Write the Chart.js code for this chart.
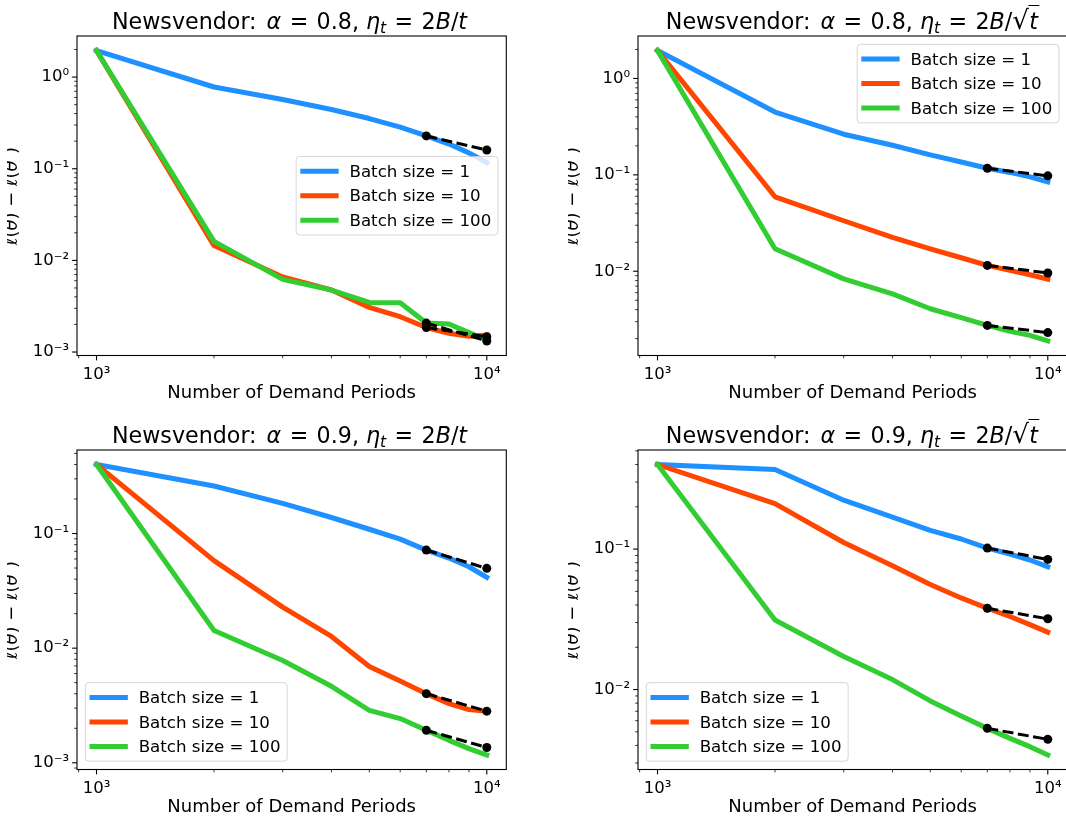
<!DOCTYPE html>
<html>
<head>
<meta charset="utf-8">
<title>Newsvendor</title>
<script src="https://cdn.jsdelivr.net/npm/chart.js@4.4.1/dist/chart.umd.min.js"></script>
<style>
  html, body { margin:0; padding:0; background:#fff; }
  body { width:1066px; height:820px; overflow:hidden; position:relative; font-family:'DejaVu Sans', sans-serif; color:#000; }
  canvas { position:absolute; }
  .ttl { position:absolute; font-size:22.2px; line-height:1; white-space:nowrap; transform:translateX(-50%); }
  .ttl i, .yl i { font-style:oblique; }
  .m { margin-left:0.45em; }
  .eq { padding:0 0.06em; }
  .sb { font-size:0.7em; position:relative; top:0.28em; font-style:oblique; }
  .rad { font-size:1.18em; line-height:0; position:relative; top:0.03em; }
  .ov { position:relative; padding:0 0.05em 0 0.02em; }
  .ov::before { content:''; position:absolute; left:-0.04em; right:0; top:-0.1em; border-top:1.4px solid #000; }
  .clip { position:absolute; overflow:hidden; top:0; height:820px; width:120px; }
  .yl { position:absolute; font-size:18px; line-height:1; white-space:nowrap; transform:translate(-50%,-50%) rotate(-90deg); }
  .sp { font-size:0.7em; position:relative; top:-0.62em; }
</style>
</head>
<body>
<canvas id="c0" width="530" height="410" style="left:0px;top:0px"></canvas>
<canvas id="c1" width="530" height="410" style="left:561px;top:0px"></canvas>
<canvas id="c2" width="530" height="410" style="left:0px;top:410px"></canvas>
<canvas id="c3" width="530" height="410" style="left:561px;top:410px"></canvas>

<div class="ttl" style="left:289.5px;top:9.5px">Newsvendor:<span class="m"><i>α</i> <span class="eq">=</span> 0.8, <i>η</i><span class="sb">t</span> <span class="eq">=</span> 2<i>B</i>/<i>t</i></span></div>
<div class="ttl" style="left:852.5px;top:9.5px">Newsvendor:<span class="m"><i>α</i> <span class="eq">=</span> 0.8, <i>η</i><span class="sb">t</span> <span class="eq">=</span> 2<i>B</i>/<span class="rad">√</span><span class="ov"><i>t</i></span></span></div>
<div class="ttl" style="left:289.5px;top:423.5px">Newsvendor:<span class="m"><i>α</i> <span class="eq">=</span> 0.9, <i>η</i><span class="sb">t</span> <span class="eq">=</span> 2<i>B</i>/<i>t</i></span></div>
<div class="ttl" style="left:852.5px;top:423.5px">Newsvendor:<span class="m"><i>α</i> <span class="eq">=</span> 0.9, <i>η</i><span class="sb">t</span> <span class="eq">=</span> 2<i>B</i>/<span class="rad">√</span><span class="ov"><i>t</i></span></span></div>

<div class="clip" style="left:7px">
  <div class="yl" style="left:3.5px;top:196px"><i>ℓ</i>(<i>θ</i>) − <i>ℓ</i>(<i>θ</i><span class="sp">*</span>)</div>
  <div class="yl" style="left:3.5px;top:610px"><i>ℓ</i>(<i>θ</i>) − <i>ℓ</i>(<i>θ</i><span class="sp">*</span>)</div>
</div>
<div class="clip" style="left:568px">
  <div class="yl" style="left:3.5px;top:196px"><i>ℓ</i>(<i>θ</i>) − <i>ℓ</i>(<i>θ</i><span class="sp">*</span>)</div>
  <div class="yl" style="left:3.5px;top:610px"><i>ℓ</i>(<i>θ</i>) − <i>ℓ</i>(<i>θ</i><span class="sp">*</span>)</div>
</div>

<script>
// ---------------- data ----------------
const periods = [1000, 2000, 3000, 4000, 5000, 6000, 7000, 8000, 9000, 10000];
const fitPeriods = [7000, 10000];
const batchLabels = ['Batch size = 1', 'Batch size = 10', 'Batch size = 100'];
const xAxisTitle = 'Number of Demand Periods';
const decadeExps = [-3, -2, -1, 0, 3, 4];
const decadeLabels = ['10⁻³', '10⁻²', '10⁻¹', '10⁰', '10³', '10⁴'];

// alpha = 0.8, eta_t = 2B/t
const a08InvT_b1   = [1.95, 0.78, 0.57, 0.443, 0.353, 0.284, 0.228, 0.186, 0.149, 0.117];
const a08InvT_b10  = [1.95, 0.0145, 0.0066, 0.00475, 0.00307, 0.00243, 0.00185, 0.0016, 0.00149, 0.00153];
const a08InvT_b100 = [1.95, 0.0161, 0.0062, 0.00475, 0.00348, 0.00345, 0.00207, 0.00202, 0.00163, 0.00135];
const a08InvT_fit1   = [0.228, 0.160];
const a08InvT_fit10  = [0.00185, 0.00147];
const a08InvT_fit100 = [0.00207, 0.00132];

// alpha = 0.8, eta_t = 2B/sqrt(t)
const a08InvSqrt_b1   = [1.95, 0.448, 0.264, 0.203, 0.161, 0.136, 0.117, 0.106, 0.0955, 0.0847];
const a08InvSqrt_b10  = [1.95, 0.0592, 0.0334, 0.0225, 0.0171, 0.0138, 0.0115, 0.0102, 0.0092, 0.00827];
const a08InvSqrt_b100 = [1.95, 0.0171, 0.00834, 0.00583, 0.00408, 0.0033, 0.00274, 0.00238, 0.00216, 0.00189];
const a08InvSqrt_fit1   = [0.117, 0.0977];
const a08InvSqrt_fit10  = [0.0115, 0.0096];
const a08InvSqrt_fit100 = [0.00274, 0.00231];

// alpha = 0.9, eta_t = 2B/t
const a09InvT_b1   = [0.40, 0.260, 0.183, 0.138, 0.109, 0.0893, 0.0717, 0.0611, 0.0513, 0.0414];
const a09InvT_b10  = [0.40, 0.058, 0.0228, 0.01265, 0.00693, 0.00517, 0.00401, 0.00328, 0.00291, 0.00282];
const a09InvT_b100 = [0.40, 0.01426, 0.0078, 0.00465, 0.00287, 0.00243, 0.00192, 0.00157, 0.00133, 0.00117];
const a09InvT_fit1   = [0.0717, 0.0497];
const a09InvT_fit10  = [0.00401, 0.00282];
const a09InvT_fit100 = [0.00192, 0.00136];

// alpha = 0.9, eta_t = 2B/sqrt(t)
const a09InvSqrt_b1   = [0.40, 0.369, 0.223, 0.169, 0.136, 0.118, 0.1016, 0.0922, 0.0836, 0.0749];
const a09InvSqrt_b10  = [0.40, 0.2105, 0.1114, 0.0762, 0.0559, 0.0449, 0.0379, 0.0331, 0.029, 0.0256];
const a09InvSqrt_b100 = [0.40, 0.0313, 0.0172, 0.01177, 0.0083, 0.00647, 0.00529, 0.00449, 0.00392, 0.00342];
const a09InvSqrt_fit1   = [0.1016, 0.0844];
const a09InvSqrt_fit10  = [0.0379, 0.0319];
const a09InvSqrt_fit100 = [0.00529, 0.00442];

// ---------------- helpers ----------------
const lineColors = ['#1E90FF', '#FF4500', '#32CD32'];

function series(xs, ys) { return xs.map((x, i) => ({ x: x, y: ys[i] })); }

function logBounds(values) {
  const lo = Math.log10(Math.min(...values)), hi = Math.log10(Math.max(...values));
  const m = (hi - lo) * 0.05;
  return [Math.pow(10, lo - m), Math.pow(10, hi + m)];
}

function logTicks(min, max) {
  const out = [];
  const k0 = Math.floor(Math.log10(min)), k1 = Math.ceil(Math.log10(max));
  for (let k = k0; k <= k1; k++) {
    for (let m = 1; m <= 9; m++) {
      const v = m * Math.pow(10, k);
      if (v >= min && v <= max) out.push({ value: v, isDecade: m === 1, exp: k });
    }
  }
  return out;
}

function tickLabel(value, index, ticks) {
  const t = ticks[index];
  if (!t || !t.isDecade) return '';
  const i = decadeExps.indexOf(t.exp);
  return i >= 0 ? decadeLabels[i] : '';
}

const axesPlugin = {
  id: 'mplAxes',
  afterDatasetsDraw(chart) {
    const ctx = chart.ctx, a = chart.chartArea, xs = chart.scales.x, ys = chart.scales.y;
    ctx.save();
    ctx.strokeStyle = '#000';
    for (const t of xs.ticks) {
      const px = xs.getPixelForValue(t.value);
      ctx.lineWidth = t.isDecade ? 1.1 : 0.8;
      ctx.beginPath(); ctx.moveTo(px, a.bottom); ctx.lineTo(px, a.bottom + (t.isDecade ? 4.9 : 2.8)); ctx.stroke();
    }
    for (const t of ys.ticks) {
      const py = ys.getPixelForValue(t.value);
      ctx.lineWidth = t.isDecade ? 1.1 : 0.8;
      ctx.beginPath(); ctx.moveTo(a.left, py); ctx.lineTo(a.left - (t.isDecade ? 4.9 : 2.8), py); ctx.stroke();
    }
    ctx.lineWidth = 1.1;
    ctx.strokeRect(a.left, a.top, a.right - a.left, a.bottom - a.top);
    ctx.restore();
  }
};

const legendPlugin = {
  id: 'mplLegend',
  afterDatasetsDraw(chart, args, opts) {
    const f = 16.67;
    const ctx = chart.ctx, a = chart.chartArea;
    const items = chart.data.datasets.filter(d => d.label);
    ctx.save();
    ctx.font = f + 'px "DejaVu Sans"';
    const tw = Math.max(...items.map(d => ctx.measureText(d.label).width));
    const pad = 0.4 * f, hl = 2 * f, htp = 0.8 * f, ls = 0.5 * f, bap = 0.5 * f, rowH = 0.97 * f;
    const w = 2 * pad + hl + htp + tw;
    const h = 2 * pad + items.length * rowH + (items.length - 1) * ls;
    let x, y;
    if (opts.loc === 'upper right') { x = a.right - bap - w; y = a.top + bap; }
    else if (opts.loc === 'center right') { x = a.right - bap - w; y = (a.top + a.bottom) / 2 - h / 2; }
    else { x = a.left + bap; y = a.bottom - bap - h; }
    ctx.beginPath();
    ctx.roundRect(x, y, w, h, 0.2 * f);
    ctx.fillStyle = 'rgba(255,255,255,0.8)';
    ctx.fill();
    ctx.strokeStyle = 'rgba(204,204,204,0.8)';
    ctx.lineWidth = 1;
    ctx.stroke();
    items.forEach((d, i) => {
      const cy = y + pad + rowH / 2 + i * (rowH + ls);
      ctx.strokeStyle = d.borderColor;
      ctx.lineWidth = d.borderWidth;
      ctx.lineCap = 'square';
      ctx.beginPath(); ctx.moveTo(x + pad, cy); ctx.lineTo(x + pad + hl, cy); ctx.stroke();
      ctx.fillStyle = '#000';
      ctx.textBaseline = 'alphabetic';
      ctx.textAlign = 'left';
      ctx.fillText(d.label, x + pad + hl + htp, cy + 0.34 * f);
    });
    ctx.restore();
  }
};

Chart.defaults.font.family = "'DejaVu Sans'";
Chart.defaults.color = '#000';

const panels = [
  { canvas: 'c0', lines: [a08InvT_b1, a08InvT_b10, a08InvT_b100], fits: [a08InvT_fit1, a08InvT_fit10, a08InvT_fit100], loc: 'center right', padTop: 36, padBottom: 6.2 },
  { canvas: 'c1', lines: [a08InvSqrt_b1, a08InvSqrt_b10, a08InvSqrt_b100], fits: [a08InvSqrt_fit1, a08InvSqrt_fit10, a08InvSqrt_fit100], loc: 'upper right', padTop: 36, padBottom: 6.2 },
  { canvas: 'c2', lines: [a09InvT_b1, a09InvT_b10, a09InvT_b100], fits: [a09InvT_fit1, a09InvT_fit10, a09InvT_fit100], loc: 'lower left', padTop: 40, padBottom: 2.2 },
  { canvas: 'c3', lines: [a09InvSqrt_b1, a09InvSqrt_b10, a09InvSqrt_b100], fits: [a09InvSqrt_fit1, a09InvSqrt_fit10, a09InvSqrt_fit100], loc: 'lower left', padTop: 40, padBottom: 2.2 }
];

function build(p) {
  const datasets = [];
  p.lines.forEach((ys, i) => datasets.push({
    label: batchLabels[i], data: series(periods, ys),
    borderColor: lineColors[i], backgroundColor: lineColors[i],
    borderWidth: 5, pointRadius: 0, pointHoverRadius: 0, tension: 0,
    borderCapStyle: 'square', borderJoinStyle: 'round', fill: false, order: 6 - i
  }));
  p.fits.forEach((ys, i) => datasets.push({
    label: '', data: series(fitPeriods, ys),
    borderColor: '#000', backgroundColor: '#000',
    borderWidth: 3, borderDash: [11, 4.5], borderCapStyle: 'butt',
    pointRadius: 4.5, pointHoverRadius: 4.5, pointBackgroundColor: '#000', pointBorderWidth: 0,
    tension: 0, fill: false, order: 3 - i
  }));
  const yb = logBounds(p.lines.flat().concat(p.fits.flat()));
  const xb = logBounds(periods);
  new Chart(document.getElementById(p.canvas), {
    type: 'line',
    data: { datasets: datasets },
    options: {
      responsive: false, animation: false, devicePixelRatio: 1, events: [],
      layout: { autoPadding: false, padding: { top: p.padTop, right: 23.7, bottom: p.padBottom, left: 0 } },
      plugins: { legend: { display: false }, tooltip: { enabled: false }, title: { display: false }, mplLegend: { loc: p.loc } },
      scales: {
        x: {
          type: 'logarithmic', min: xb[0], max: xb[1], bounds: 'data',
          grid: { display: false, drawTicks: false }, border: { display: false },
          afterBuildTicks: s => { s.ticks = logTicks(s.min, s.max); },
          afterFit: s => { s.height = 48.3; },
          ticks: { autoSkip: false, maxRotation: 0, minRotation: 0, padding: 9, font: { size: 16.5 }, color: '#000', callback: tickLabel },
          title: { display: true, text: xAxisTitle, font: { size: 18 }, color: '#000', padding: 0 }
        },
        y: {
          type: 'logarithmic', min: yb[0], max: yb[1], bounds: 'data',
          grid: { display: false, drawTicks: false }, border: { display: false },
          afterBuildTicks: s => { s.ticks = logTicks(s.min, s.max); },
          afterFit: s => { s.width = 77; },
          ticks: { autoSkip: false, padding: 8, font: { size: 16.5 }, color: '#000', callback: tickLabel }
        }
      }
    },
    plugins: [axesPlugin, legendPlugin]
  });
}

panels.forEach(build);
</script>
</body>
</html>
